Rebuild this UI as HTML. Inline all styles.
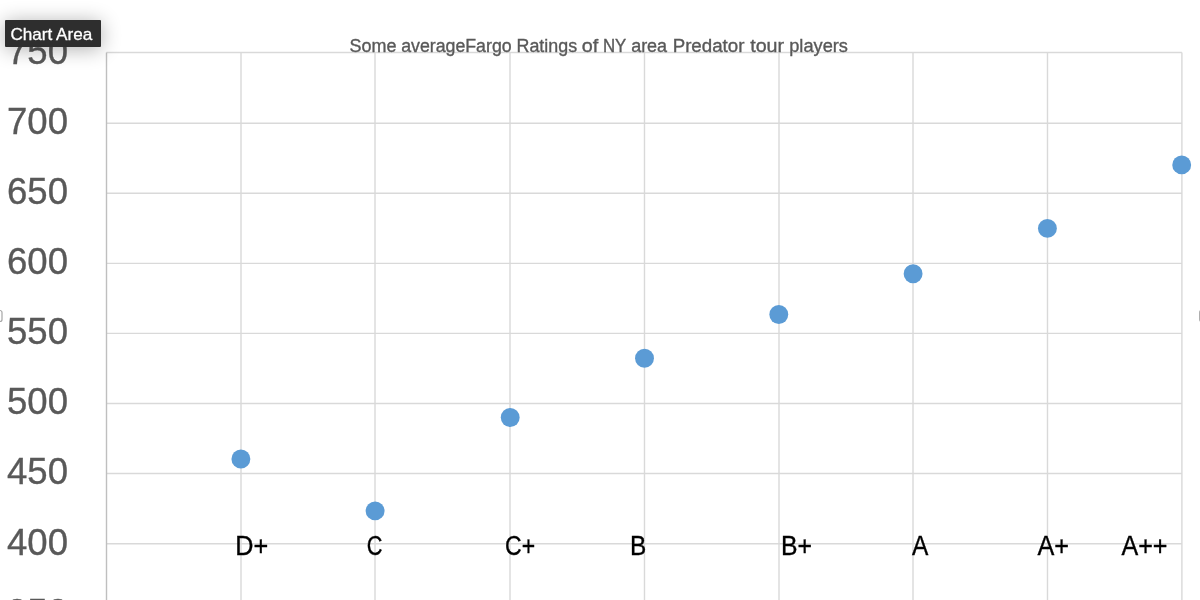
<!DOCTYPE html>
<html><head><meta charset="utf-8">
<style>
html,body{margin:0;padding:0;background:#fff;width:1200px;height:600px;overflow:hidden;position:relative;}
svg{display:block;position:absolute;left:0;top:0;will-change:transform;}
text{font-family:"Liberation Sans",sans-serif;}
.tip{position:absolute;left:5px;top:20px;width:96px;height:27px;background:#2e2e2e;border-radius:1px;box-shadow:0 2px 20px rgba(0,0,0,0.32);}
</style></head>
<body>
<svg width="1200" height="600" viewBox="0 0 1200 600">
<rect width="1200" height="600" fill="#fff"/>
<g stroke="#d9d9d9" stroke-width="1.4" fill="none">
<line x1="106.5" y1="52.5" x2="1181.9" y2="52.5"/>
<line x1="106.5" y1="123.3" x2="1181.9" y2="123.3"/>
<line x1="106.5" y1="193.3" x2="1181.9" y2="193.3"/>
<line x1="106.5" y1="263.4" x2="1181.9" y2="263.4"/>
<line x1="106.5" y1="333.4" x2="1181.9" y2="333.4"/>
<line x1="106.5" y1="403.5" x2="1181.9" y2="403.5"/>
<line x1="106.5" y1="473.5" x2="1181.9" y2="473.5"/>
<line x1="106.5" y1="543.75" x2="1181.9" y2="543.75"/>
<line x1="241" y1="52.5" x2="241" y2="600"/>
<line x1="375" y1="52.5" x2="375" y2="600"/>
<line x1="510" y1="52.5" x2="510" y2="600"/>
<line x1="644.5" y1="52.5" x2="644.5" y2="600"/>
<line x1="779" y1="52.5" x2="779" y2="600"/>
<line x1="913" y1="52.5" x2="913" y2="600"/>
<line x1="1047.5" y1="52.5" x2="1047.5" y2="600"/>
<line x1="1181.9" y1="52.5" x2="1181.9" y2="600"/>
</g>
<line x1="106.5" y1="52.5" x2="106.5" y2="600" stroke="#bfbfbf" stroke-width="1.4"/>
<g fill="#595959" font-size="37.3" text-anchor="end" stroke="#595959" stroke-width="0.35">
<text x="68" y="64.2" textLength="61" lengthAdjust="spacingAndGlyphs">750</text>
<text x="68" y="134.2" textLength="61" lengthAdjust="spacingAndGlyphs">700</text>
<text x="68" y="204.2" textLength="61" lengthAdjust="spacingAndGlyphs">650</text>
<text x="68" y="274.3" textLength="61" lengthAdjust="spacingAndGlyphs">600</text>
<text x="68" y="344.3" textLength="61" lengthAdjust="spacingAndGlyphs">550</text>
<text x="68" y="414.4" textLength="61" lengthAdjust="spacingAndGlyphs">500</text>
<text x="68" y="484.4" textLength="61" lengthAdjust="spacingAndGlyphs">450</text>
<text x="68" y="554.65" textLength="61" lengthAdjust="spacingAndGlyphs">400</text>
<text x="68" y="624.75" textLength="61" lengthAdjust="spacingAndGlyphs">350</text>
</g>
<g fill="#595959" font-size="18" stroke="#595959" stroke-width="0.35">
<text x="349.57" y="51.5" textLength="46.92" lengthAdjust="spacingAndGlyphs">Some</text>
<text x="401.15" y="51.5" textLength="110.49" lengthAdjust="spacingAndGlyphs">averageFargo</text>
<text x="516.53" y="51.5" textLength="60.6" lengthAdjust="spacingAndGlyphs">Ratings</text>
<text x="581.77" y="51.5" textLength="16.51" lengthAdjust="spacingAndGlyphs">of</text>
<text x="602.92" y="51.5" textLength="23.35" lengthAdjust="spacingAndGlyphs">NY</text>
<text x="631.15" y="51.5" textLength="35.96" lengthAdjust="spacingAndGlyphs">area</text>
<text x="672.67" y="51.5" textLength="71.76" lengthAdjust="spacingAndGlyphs">Predator</text>
<text x="750.2" y="51.5" textLength="33.93" lengthAdjust="spacingAndGlyphs">tour</text>
<text x="789.22" y="51.5" textLength="58.73" lengthAdjust="spacingAndGlyphs">players</text>
</g>
<g fill="#5b9bd5">
<circle cx="240.9" cy="459" r="9.45"/>
<circle cx="375.1" cy="510.9" r="9.45"/>
<circle cx="510.2" cy="417.5" r="9.45"/>
<circle cx="644.5" cy="358.3" r="9.45"/>
<circle cx="778.8" cy="314.5" r="9.45"/>
<circle cx="913.1" cy="273.7" r="9.45"/>
<circle cx="1047.4" cy="228.4" r="9.45"/>
<circle cx="1181.7" cy="164.9" r="9.45"/>
</g>
<g fill="#000" font-size="27" stroke="#000" stroke-width="0.35">
<text x="235.18" y="555" textLength="32.96" lengthAdjust="spacingAndGlyphs">D+</text>
<text x="366.64" y="555" textLength="15.69" lengthAdjust="spacingAndGlyphs">C</text>
<text x="505.08" y="555" textLength="30.05" lengthAdjust="spacingAndGlyphs">C+</text>
<text x="630.0" y="555" textLength="16.3" lengthAdjust="spacingAndGlyphs">B</text>
<text x="780.97" y="555" textLength="31.0" lengthAdjust="spacingAndGlyphs">B+</text>
<text x="911.95" y="555" textLength="16.35" lengthAdjust="spacingAndGlyphs">A</text>
<text x="1037.45" y="555" textLength="31.54" lengthAdjust="spacingAndGlyphs">A+</text>
<text x="1121.45" y="555" textLength="46.03" lengthAdjust="spacingAndGlyphs">A++</text>
</g>
<rect x="-3" y="310.5" width="5" height="11" rx="2" fill="#fff" stroke="#a6a6a6" stroke-width="1.2"/>
<rect x="1199.7" y="310.5" width="5" height="11" rx="2" fill="#fff" stroke="#a6a6a6" stroke-width="1.2"/>
</svg>
<div class="tip"></div>
<svg width="1200" height="600" viewBox="0 0 1200 600" style="pointer-events:none">
<text x="10.43" y="39.6" font-size="17" fill="#fff" stroke="#fff" stroke-width="0.3" textLength="81.88" lengthAdjust="spacingAndGlyphs">Chart Area</text>
</svg>
</body></html>
